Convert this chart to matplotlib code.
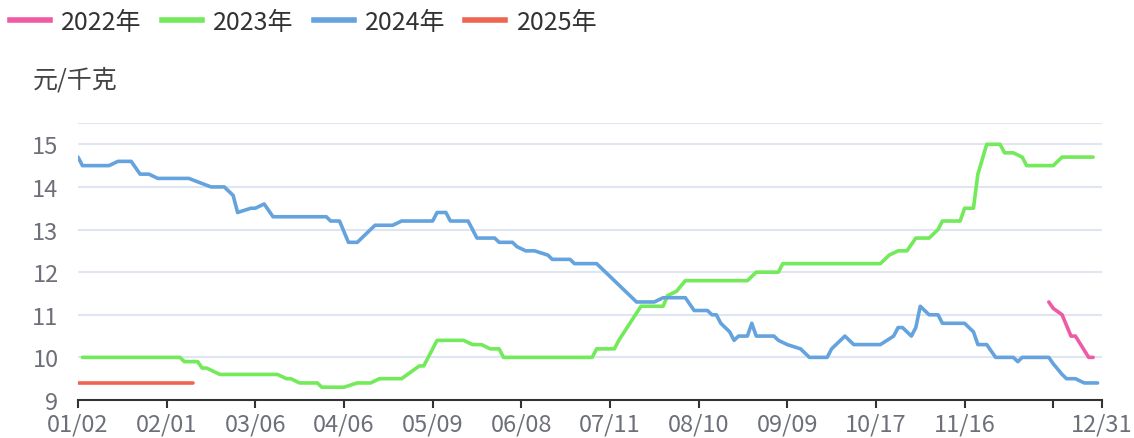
import matplotlib
matplotlib.use("Agg")
import matplotlib.pyplot as plt
from matplotlib.lines import Line2D

plt.rcParams['font.family'] = ['Noto Sans CJK SC', 'DejaVu Sans']
plt.rcParams['axes.unicode_minus'] = False

# --- 数据 (类目轴索引 -> 价格, 元/千克) ---
n_cat = 232
tick_pos = [0, 20, 40, 60, 80, 100, 120, 140, 160, 180, 200, 220, 231]
tick_labels = ['01/02', '02/01', '03/06', '04/06', '05/09', '06/08', '07/11',
               '08/10', '09/09', '10/17', '11/16', '', '12/31']

x2022 = [219, 220, 222, 224, 225, 228, 229]
y2022 = [11.3, 11.15, 11.0, 10.5, 10.5, 10.0, 10.0]

x2023 = [1, 23, 24, 27, 28, 29, 32, 45, 47, 48, 50, 54, 55, 60, 63, 66, 68, 73,
         77, 78, 79, 81, 87, 89, 91, 93, 95, 96, 116, 117, 121, 122, 127, 132,
         133, 135, 137, 151, 153, 158, 159, 181, 183, 185, 187, 189, 192, 194,
         195, 199, 200, 202, 203, 205, 208, 209, 211, 213, 214, 220, 222, 229]
y2023 = [10.0, 10.0, 9.9, 9.9, 9.75, 9.75, 9.6, 9.6, 9.5, 9.5, 9.4, 9.4, 9.3, 9.3,
         9.4, 9.4, 9.5, 9.5, 9.8, 9.8, 10.0, 10.4, 10.4, 10.3, 10.3, 10.2, 10.2,
         10.0, 10.0, 10.2, 10.2, 10.4, 11.2, 11.2, 11.45, 11.55, 11.8, 11.8, 12.0,
         12.0, 12.2, 12.2, 12.4, 12.5, 12.5, 12.8, 12.8, 13.0, 13.2, 13.2, 13.5,
         13.5, 14.3, 15.0, 15.0, 14.8, 14.8, 14.7, 14.5, 14.5, 14.7, 14.7]

x2024 = [0, 1, 7, 9, 12, 14, 16, 18, 25, 30, 33, 35, 36, 39, 40, 42, 44, 56, 57,
         59, 61, 63, 65, 67, 71, 73, 80, 81, 83, 84, 88, 90, 94, 95, 98, 99, 101,
         103, 106, 107, 111, 112, 117, 118, 120, 121, 124, 126, 130, 132, 137,
         139, 142, 143, 144, 145, 147, 148, 149, 151, 152, 153, 157, 158, 160,
         163, 165, 169, 170, 171, 173, 175, 181, 184, 185, 186, 188, 189, 190,
         192, 194, 195, 200, 202, 203, 205, 207, 211, 212, 213, 219, 220, 222,
         223, 225, 227, 230]
y2024 = [14.7, 14.5, 14.5, 14.6, 14.6, 14.3, 14.3, 14.2, 14.2, 14.0, 14.0, 13.8,
         13.4, 13.5, 13.5, 13.6, 13.3, 13.3, 13.2, 13.2, 12.7, 12.7, 12.9, 13.1,
         13.1, 13.2, 13.2, 13.4, 13.4, 13.2, 13.2, 12.8, 12.8, 12.7, 12.7, 12.6,
         12.5, 12.5, 12.4, 12.3, 12.3, 12.2, 12.2, 12.1, 11.9, 11.8, 11.5, 11.3,
         11.3, 11.4, 11.4, 11.1, 11.1, 11.0, 11.0, 10.8, 10.6, 10.4, 10.5, 10.5,
         10.8, 10.5, 10.5, 10.4, 10.3, 10.2, 10.0, 10.0, 10.2, 10.3, 10.5, 10.3,
         10.3, 10.5, 10.7, 10.7, 10.5, 10.7, 11.2, 11.0, 11.0, 10.8, 10.8, 10.6,
         10.3, 10.3, 10.0, 10.0, 9.9, 10.0, 10.0, 9.85, 9.6, 9.5, 9.5, 9.4, 9.4]

x2025 = [0, 26]
y2025 = [9.4, 9.4]

series = [
    ('2022年', x2022, y2022, '#f05aa5'),
    ('2023年', x2023, y2023, '#72ea5a'),
    ('2024年', x2024, y2024, '#65a3de'),
    ('2025年', x2025, y2025, '#ee6552'),
]

fig = plt.figure(figsize=(11.34, 4.39), dpi=100)
ax = fig.add_axes([78 / 1134, 1 - 401 / 439, 1024 / 1134, 277 / 439])

# 网格
for v in [10, 11, 12, 13, 14, 15, 15.5]:
    ax.axhline(v, color='#e0e6f1', lw=1.5, zorder=1)

handles = []
for name, xs, ys, color in series:
    ax.plot(xs, ys, color=color, lw=2.6, solid_joinstyle='round',
            solid_capstyle='round', zorder=3)
    handles.append(Line2D([0], [0], color=color, lw=4))

ax.set_xlim(0, n_cat - 1)
ax.set_ylim(9, 15.5)
ax.set_yticks([9, 10, 11, 12, 13, 14, 15])
ax.set_xticks(tick_pos)
ax.set_xticklabels(tick_labels)

for s in ['top', 'right', 'left']:
    ax.spines[s].set_visible(False)
ax.spines['bottom'].set_color('#333333')
ax.spines['bottom'].set_linewidth(1.5)
ax.tick_params(axis='x', colors='#333333', length=6, width=1.5, pad=3,
               labelsize=17, labelcolor='#6e7079')
ax.tick_params(axis='y', length=0, pad=14, labelsize=17, labelcolor='#6e7079')
ax.set_facecolor('none')

fig.text(33 / 1134, 1 - 80 / 439, '元/千克', fontsize=18, color='#444444',
         va='center', ha='left')

fig.legend(handles, [s[0] for s in series], ncol=4, loc='center left',
           bbox_to_anchor=(10 / 1134, 1 - 23 / 439), frameon=False, fontsize=18,
           handlelength=1.6, handletextpad=0.45, columnspacing=0.8,
           labelcolor='#333333', borderaxespad=0, borderpad=0)

plt.savefig('out.png', dpi=100)
